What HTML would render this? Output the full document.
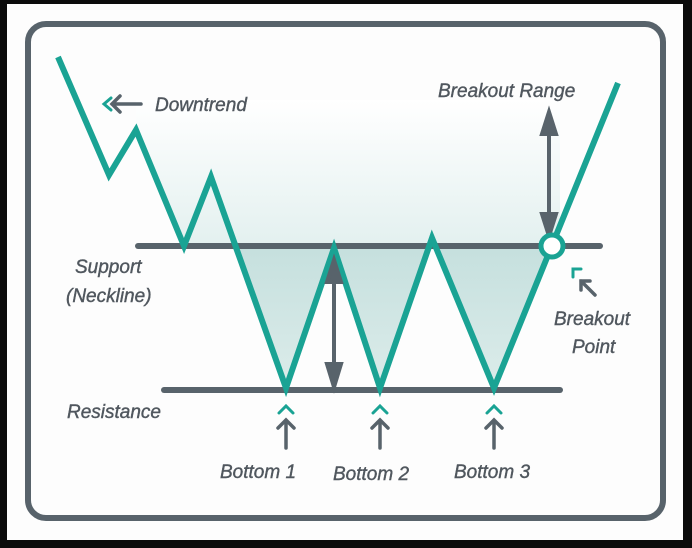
<!DOCTYPE html><html><head><style>body{margin:0;background:#0b0b0b}svg{display:block}text{font-family:"Liberation Sans",sans-serif;font-style:italic;fill:#50575e;font-size:19px;stroke:#50575e;stroke-width:0.4}</style></head><body>
<svg width="692" height="548" viewBox="0 0 692 548">
<defs><linearGradient id="g" x1="0" y1="0" x2="0" y2="1"><stop offset="0" stop-color="#fff"/><stop offset="1" stop-color="#c8e2e0"/></linearGradient>
<linearGradient id="g2" x1="0" y1="0" x2="0" y2="1"><stop offset="0" stop-color="#c4dfdd"/><stop offset="1" stop-color="#dcecea"/></linearGradient></defs>
<rect x="7" y="4" width="676" height="536" fill="#fdfdfd"/>
<rect x="28" y="24" width="635" height="494" rx="18" fill="none" stroke="#58636b" stroke-width="6"/>
<polygon points="136,100 560,100 560,246 184,246 211,177 286,388 334,248 380,388 432,238 494,388 548,246 184,246 136,130" fill="url(#g)"/>
<polygon points="232,246 286,388 334,248 380,388 432,238 494,388 548,246" fill="url(#g2)"/>
<line x1="138" y1="246" x2="600" y2="246" stroke="#58636b" stroke-width="6" stroke-linecap="round"/>
<line x1="164" y1="390" x2="560" y2="390" stroke="#58636b" stroke-width="6" stroke-linecap="round"/>
<polyline points="58,57 109,175 136,130 184,246 211,177 286,388 334,248 380,388 432,238 494,388 618,83" fill="none" stroke="#1aa394" stroke-width="6" stroke-linejoin="miter"/>
<g stroke="#58636b" stroke-width="4" fill="#58636b">
<line x1="334" y1="268" x2="334" y2="378"/><polygon points="327,282 334,260 341,282"/><polygon points="327,364 334,387 341,364"/>
<line x1="549" y1="120" x2="549" y2="225"/><polygon points="542,134 549,112 556,134"/><polygon points="542,214 549,236 556,214"/>
</g>
<circle cx="552" cy="246" r="11" fill="#fff" stroke="#1aa394" stroke-width="5"/>
<g fill="none" stroke-width="3" stroke-linecap="round">
<path d="M111,98 L104,104 L111,110" stroke="#1aa394"/><path d="M120,96 L112,104 L120,112 M112,104 L141,104" stroke="#58636b" stroke-width="3.5"/>
<path d="M573,277 L573,269 L581,269" stroke="#1aa394"/><path d="M595,295 L581,281 M581,290 L581,281 L590,281" stroke="#58636b" stroke-width="3.5"/>
<g transform="translate(286,0)"><path d="M-7,413 L0,406 L7,413" stroke="#1aa394"/><path d="M-8,428 L0,420 L8,428 M0,420 L0,448" stroke="#58636b" stroke-width="3.5"/></g>
<g transform="translate(380,0)"><path d="M-7,413 L0,406 L7,413" stroke="#1aa394"/><path d="M-8,428 L0,420 L8,428 M0,420 L0,448" stroke="#58636b" stroke-width="3.5"/></g>
<g transform="translate(494,0)"><path d="M-7,413 L0,406 L7,413" stroke="#1aa394"/><path d="M-8,428 L0,420 L8,428 M0,420 L0,448" stroke="#58636b" stroke-width="3.5"/></g>
</g>
<text x="155" y="111">Downtrend</text>
<text x="438" y="97">Breakout Range</text>
<text x="75" y="273">Support</text>
<text x="66" y="302">(Neckline)</text>
<text x="67" y="418">Resistance</text>
<text x="554" y="325">Breakout</text>
<text x="572" y="353">Point</text>
<text x="220" y="478">Bottom 1</text>
<text x="333" y="480">Bottom 2</text>
<text x="454" y="478">Bottom 3</text>
</svg></body></html>
